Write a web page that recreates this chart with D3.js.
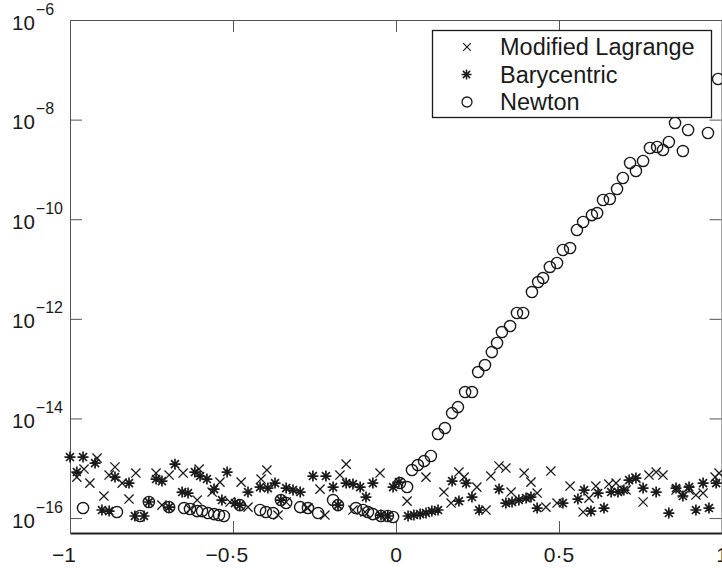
<!DOCTYPE html>
<html>
<head>
<meta charset="utf-8">
<script src="https://cdn.jsdelivr.net/npm/d3@7"></script>
<style>
  body { margin: 0; background: #fff; }
  svg { display: block; }
  svg text { font-family: Arial, "Liberation Sans", Helvetica, sans-serif; }
</style>
</head>
<body>
<div id="canvas"></div>
<script>
// 1) Data (read off the picture)

const lagrangeX = [-0.979,-0.957,-0.939,-0.917,-0.896,-0.880,-0.862,-0.840,-0.819,-0.798,-0.736,-0.718,-0.696,-0.653,-0.632,-0.610,-0.604,-0.564,-0.540,-0.509,-0.475,-0.454,-0.414,-0.396,-0.362,-0.337,-0.273,-0.270,-0.233,-0.218,-0.172,-0.153,-0.132,-0.095,-0.049,
  0.034,0.092,0.147,0.169,0.193,0.209,0.248,0.276,0.291,0.316,0.337,0.353,0.393,0.414,0.433,0.460,0.475,0.494,0.534,0.574,0.592,0.613,0.653,0.675,0.706,0.736,0.758,0.776,0.798,0.819,0.859,0.880,0.899,0.920,0.942,0.979,0.991]
const lagrangeY = [6.65e-16,9.64e-16,5.04e-16,1.60e-15,2.77e-16,7.30e-16,1.06e-15,5.04e-16,2.41e-16,8.01e-16,8.01e-16,1.82e-16,7.30e-16,8.01e-16,1.52e-16,2.30e-16,9.64e-16,3.33e-16,5.28e-16,2.10e-16,5.28e-16,1.66e-16,6.07e-16,9.20e-16,1.15e-16,2.10e-16,1.59e-16,1.59e-16,3.82e-16,1.15e-16,7.30e-16,1.21e-15,1.45e-16,1.32e-16,8.01e-16,
  2.19e-16,6.65e-16,3.33e-16,2.00e-16,8.39e-16,6.65e-16,4.19e-16,1.45e-16,6.97e-16,1.11e-15,1.01e-15,3.33e-16,8.01e-16,5.28e-16,3.18e-16,1.66e-16,8.79e-16,2.00e-16,4.39e-16,1.32e-16,2.52e-16,4.39e-16,4.82e-16,5.04e-16,3.65e-16,6.35e-16,2.10e-16,7.30e-16,8.39e-16,7.30e-16,3.65e-16,3.18e-16,3.65e-16,2.90e-16,3.18e-16,6.65e-16,8.01e-16]

const baryX = [-1.000,-0.979,-0.960,-0.923,-0.902,-0.880,-0.862,-0.819,-0.801,-0.773,-0.758,-0.736,-0.718,-0.696,-0.678,-0.656,-0.638,-0.617,-0.601,-0.580,-0.558,-0.534,-0.518,-0.494,-0.479,-0.454,-0.417,-0.393,-0.371,-0.353,-0.337,-0.316,-0.294,-0.255,-0.215,-0.193,-0.178,-0.153,-0.132,-0.110,-0.092,-0.071,-0.046,-0.025,-0.009,
  0.009,0.037,0.055,0.074,0.092,0.110,0.129,0.172,0.193,0.215,0.233,0.255,0.316,0.337,0.356,0.377,0.399,0.414,0.433,0.512,0.558,0.577,0.598,0.620,0.638,0.660,0.681,0.699,0.715,0.736,0.758,0.798,0.837,0.859,0.880,0.899,0.920,0.942,0.960,0.982]
const baryY = [1.68e-15,8.39e-16,1.68e-15,1.27e-15,1.45e-16,1.38e-16,6.65e-16,5.04e-16,1.10e-16,1.10e-16,2.10e-16,6.07e-16,5.53e-16,1.66e-16,1.21e-15,3.33e-16,3.18e-16,8.39e-16,6.97e-16,6.07e-16,3.82e-16,2.30e-16,8.39e-16,2.00e-16,1.82e-16,3.33e-16,4.19e-16,4.00e-16,5.04e-16,2.30e-16,4.00e-16,3.65e-16,3.33e-16,6.97e-16,6.97e-16,4.19e-16,1.82e-16,5.04e-16,4.82e-16,4.19e-16,2.64e-16,5.04e-16,1.15e-16,1.10e-16,4.19e-16,
  5.28e-16,1.10e-16,1.15e-16,1.20e-16,1.26e-16,1.38e-16,1.45e-16,5.53e-16,2.19e-16,5.04e-16,2.64e-16,1.45e-16,3.82e-16,2.00e-16,2.10e-16,2.30e-16,2.52e-16,2.64e-16,1.59e-16,2.00e-16,2.41e-16,3.65e-16,1.38e-16,3.18e-16,1.59e-16,3.33e-16,3.33e-16,3.65e-16,5.79e-16,6.35e-16,4.00e-16,3.33e-16,1.26e-16,4.00e-16,2.77e-16,4.19e-16,1.45e-16,5.04e-16,1.59e-16,5.04e-16]

const newtonX = [-0.960,-0.856,-0.785,-0.758,-0.696,-0.650,-0.632,-0.610,-0.595,-0.577,-0.558,-0.543,-0.528,-0.479,-0.417,-0.399,-0.377,-0.353,-0.337,-0.294,-0.270,-0.239,-0.193,-0.178,-0.123,-0.101,-0.086,-0.071,-0.046,-0.025,-0.009,
  0.012,0.034,0.049,0.067,0.086,0.107,0.129,0.150,0.172,0.190,0.212,0.233,0.252,0.273,0.294,0.310,0.325,0.350,0.371,0.390,0.417,0.436,0.451,0.472,0.494,0.512,0.534,0.555,0.574,0.601,0.617,0.635,0.656,0.678,0.696,0.718,0.736,0.758,0.779,0.801,0.819,0.837,0.856,0.880,0.896,0.957,0.988]
const newtonY = [1.59e-16,1.32e-16,1.10e-16,2.10e-16,1.66e-16,1.59e-16,1.52e-16,1.38e-16,1.38e-16,1.26e-16,1.20e-16,1.15e-16,1.10e-16,1.82e-16,1.45e-16,1.32e-16,1.26e-16,2.30e-16,2.00e-16,1.66e-16,1.59e-16,1.26e-16,2.30e-16,1.82e-16,1.59e-16,1.45e-16,1.32e-16,1.20e-16,1.10e-16,1.10e-16,1.05e-16,
  5.04e-16,4.19e-16,9.20e-16,1.16e-15,1.39e-15,1.76e-15,4.86e-15,6.42e-15,1.28e-14,1.69e-14,3.39e-14,3.39e-14,8.55e-14,1.18e-13,2.15e-13,3.27e-13,5.43e-13,7.17e-13,1.31e-12,1.31e-12,3.45e-12,5.48e-12,6.59e-12,1.10e-11,1.32e-11,2.41e-11,2.64e-11,6.07e-11,8.79e-11,1.21e-10,1.33e-10,2.43e-10,2.55e-10,4.04e-10,6.72e-10,1.35e-09,9.29e-10,1.48e-09,2.69e-09,2.82e-09,2.45e-09,3.55e-09,8.55e-09,2.34e-09,6.18e-09,5.38e-09,6.53e-08]

const xTicks = [-1, -0.5, 0, 0.5, 1]
const yTicks = [1e-16, 1e-14, 1e-12, 1e-10, 1e-8, 1e-6]
const yTickExp = [-16, -14, -12, -10, -8, -6]
const legendNames = ['Modified Lagrange', 'Barycentric', 'Newton']

// 2) Dimensions

const dimensions = {
  width: 722,
  height: 568,
  left: 70,
  right: 722,
  top: 20,
  bottom: 533
}

const ink = '#1a1a1a'
const fontFamily = 'Arial, "Liberation Sans", Helvetica, sans-serif'

// 3) Canvas

const svg = d3.select('#canvas')
  .append('svg')
  .attr('width', dimensions.width)
  .attr('height', dimensions.height)
  .attr('font-family', fontFamily)

// 4) Scales

const xScale = d3.scaleLinear()
  .domain([-1, 1])
  .range([dimensions.left, dimensions.right])

const yScale = d3.scaleLog()
  .domain([Math.pow(10, -16.3), 1e-6])
  .range([dimensions.bottom, dimensions.top])

// 5) Axes with inward ticks on all four sides

const tickLen = 12

function styleAxis(g, domainColor, domainWidth) {
  g.selectAll('.tick line').attr('stroke', '#555').attr('stroke-width', 1)
  g.select('.domain').attr('stroke', domainColor).attr('stroke-width', domainWidth)
  g.selectAll('.tick text').remove()
}

svg.append('g')
  .attr('transform', `translate(0, ${dimensions.bottom})`)
  .call(d3.axisBottom(xScale).tickValues(xTicks).tickSizeInner(-tickLen).tickSizeOuter(0))
  .call(g => styleAxis(g, '#222', 2))

svg.append('g')
  .attr('transform', `translate(0, ${dimensions.top})`)
  .call(d3.axisTop(xScale).tickValues(xTicks).tickSizeInner(-tickLen).tickSizeOuter(0))
  .call(g => styleAxis(g, '#555', 1))

svg.append('g')
  .attr('transform', `translate(${dimensions.left}, 0)`)
  .call(d3.axisLeft(yScale).tickValues(yTicks).tickSizeInner(-tickLen).tickSizeOuter(0))
  .call(g => styleAxis(g, '#555', 1))

svg.append('g')
  .attr('transform', `translate(${dimensions.right - 0.5}, 0)`)
  .call(d3.axisRight(yScale).tickValues(yTicks).tickSizeInner(-tickLen).tickSizeOuter(0))
  .call(g => styleAxis(g, '#555', 1))

// x tick labels: number centred on the tick, minus sign hung to its left
const xLabels = svg.append('g')
xTicks.forEach(v => {
  const body = String(Math.abs(v)).replace('.', '\u00B7')
  const t = xLabels.append('text')
    .attr('x', xScale(v))
    .attr('y', 562)
    .attr('text-anchor', 'middle')
    .attr('font-family', fontFamily)
    .attr('font-size', 21)
    .attr('fill', ink)
    .text(body)
  if (v < 0) {
    const w = t.node().getComputedTextLength()
    xLabels.append('text')
      .attr('x', xScale(v) - w / 2)
      .attr('y', 562)
      .attr('text-anchor', 'end')
      .attr('font-family', fontFamily)
      .attr('font-size', 21)
      .attr('fill', ink)
      .text('\u2212')
  }
})

// y tick labels: 10 with superscript exponent
const yLabels = svg.append('g')
yTicks.forEach((v, i) => {
  const t = yLabels.append('text')
    .attr('x', 12)
    .attr('y', yScale(v) + 9.5)
    .attr('font-family', fontFamily)
    .attr('font-size', 20.5)
    .attr('fill', ink)
  t.append('tspan').text('10')
  t.append('tspan')
    .attr('dx', 1)
    .attr('dy', -15)
    .attr('font-size', 16)
    .text('\u2212' + Math.abs(yTickExp[i]))
})

// 6) Markers

function crossPath(cx, cy, s) {
  return `M${cx - s},${cy - s}L${cx + s},${cy + s}M${cx - s},${cy + s}L${cx + s},${cy - s}`
}
function starPath(cx, cy, s) {
  const d = s * 0.72
  return `M${cx - s},${cy}L${cx + s},${cy}M${cx},${cy - s}L${cx},${cy + s}` +
    `M${cx - d},${cy - d}L${cx + d},${cy + d}M${cx - d},${cy + d}L${cx + d},${cy - d}`
}

const marks = svg.append('g')

marks.selectAll('path.lagrange')
  .data(lagrangeX)
  .enter()
  .append('path')
  .attr('class', 'lagrange')
  .attr('d', (d, i) => crossPath(xScale(d), yScale(lagrangeY[i]), 4.6))
  .attr('stroke', ink)
  .attr('stroke-width', 1.3)
  .attr('fill', 'none')

marks.selectAll('path.bary')
  .data(baryX)
  .enter()
  .append('path')
  .attr('class', 'bary')
  .attr('d', (d, i) => starPath(xScale(d), yScale(baryY[i]), 5.5))
  .attr('stroke', ink)
  .attr('stroke-width', 1.7)
  .attr('fill', 'none')

marks.selectAll('circle.newton')
  .data(newtonX)
  .enter()
  .append('circle')
  .attr('class', 'newton')
  .attr('cx', d => xScale(d))
  .attr('cy', (d, i) => yScale(newtonY[i]))
  .attr('r', 5.6)
  .attr('stroke', ink)
  .attr('stroke-width', 1.4)
  .attr('fill', 'none')

// 7) Legend

const legend = svg.append('g')

legend.append('rect')
  .attr('x', 432.5)
  .attr('y', 30.5)
  .attr('width', 279)
  .attr('height', 87)
  .attr('fill', '#fff')
  .attr('stroke', ink)
  .attr('stroke-width', 1.3)

const rowY = [47, 74.5, 102]

legend.append('path')
  .attr('d', crossPath(467, rowY[0], 3.8))
  .attr('stroke', ink).attr('stroke-width', 1.2).attr('fill', 'none')
legend.append('path')
  .attr('d', starPath(466.5, rowY[1], 5))
  .attr('stroke', ink).attr('stroke-width', 1.5).attr('fill', 'none')
legend.append('circle')
  .attr('cx', 467).attr('cy', rowY[2]).attr('r', 5)
  .attr('stroke', ink).attr('stroke-width', 1.3).attr('fill', 'none')

legend.selectAll('text')
  .data(legendNames)
  .enter()
  .append('text')
  .attr('x', 500)
  .attr('y', (d, i) => rowY[i] + 8.3)
  .attr('font-family', fontFamily)
  .attr('font-size', 23.5)
  .attr('fill', ink)
  .text(d => d)
</script>
</body>
</html>
